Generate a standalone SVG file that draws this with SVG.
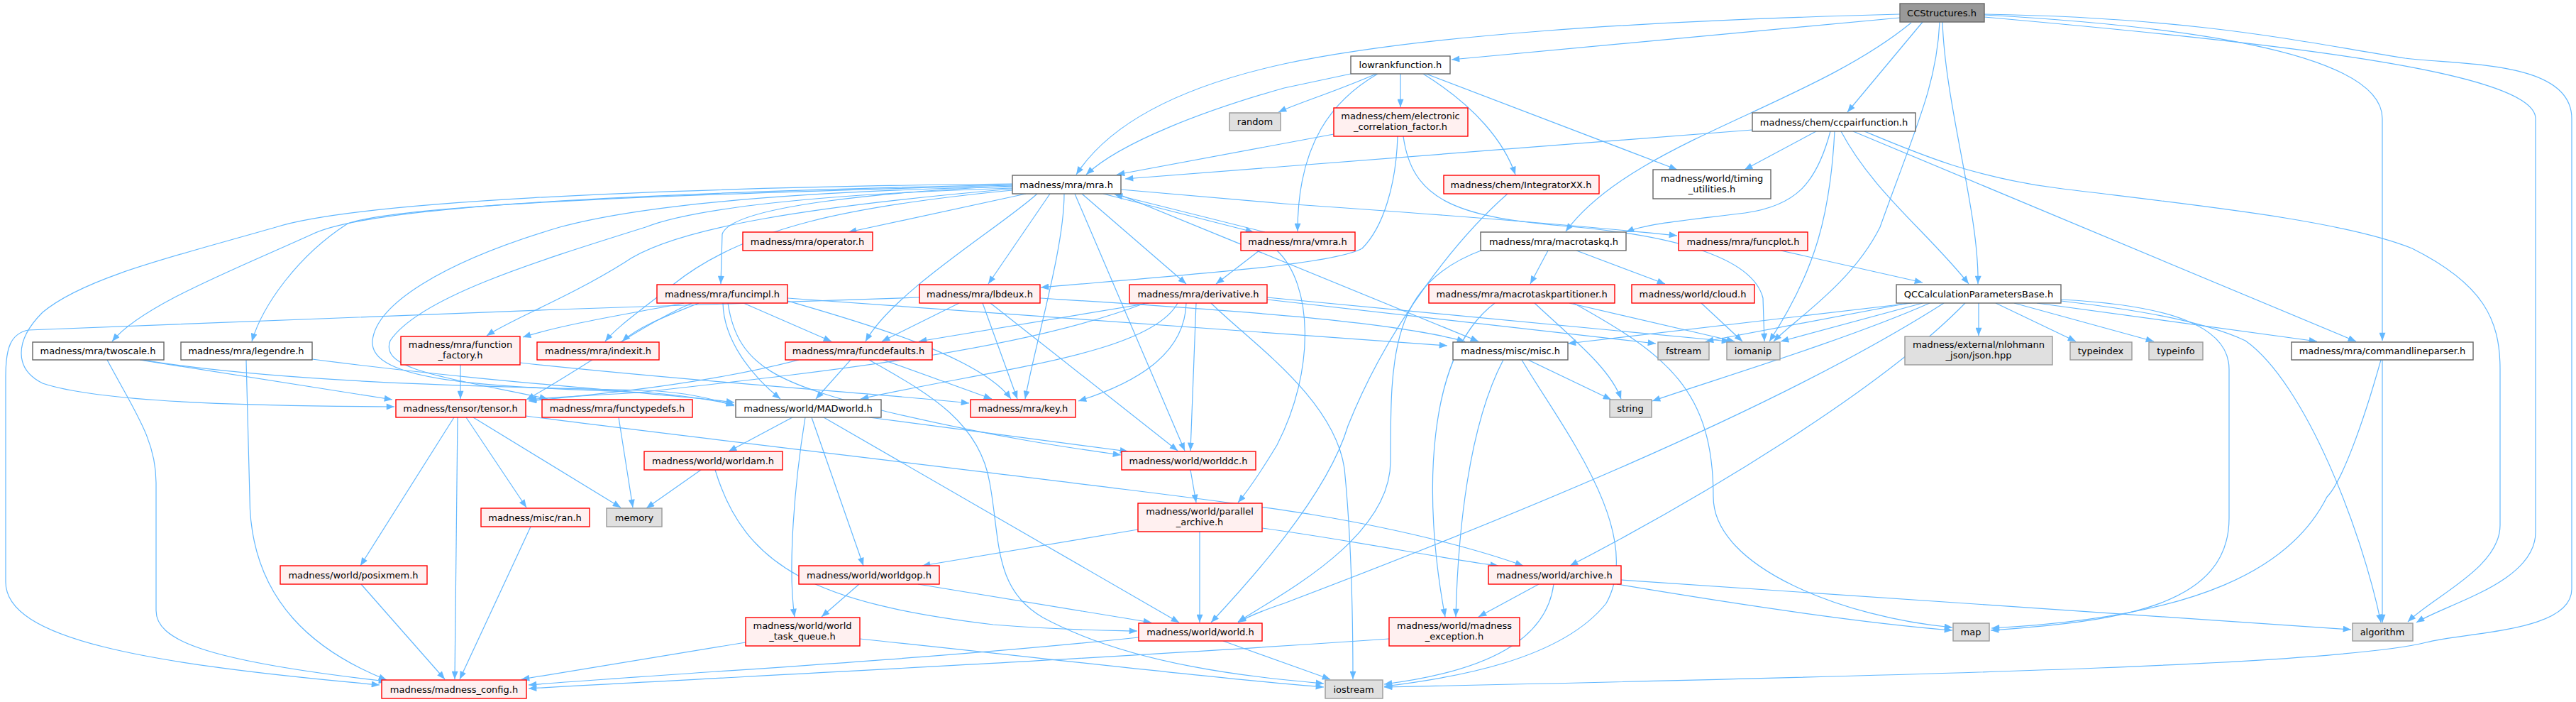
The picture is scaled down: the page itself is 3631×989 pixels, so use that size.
<svg xmlns="http://www.w3.org/2000/svg" width="3631" height="989" viewBox="0 0 3631 989">
<style>
.e{fill:none;stroke:#63b8ff;stroke-width:1.2;marker-end:url(#a)}
rect{stroke-width:1.4}
.w rect{fill:#fff;stroke:#666}
.r rect{fill:#fff0f0;stroke:#ff0000}
.s rect{fill:#e0e0e0;stroke:#999}
.root rect{fill:#999;stroke:#666}
text{font-family:"DejaVu Sans","Liberation Sans",sans-serif;font-size:13px;fill:#000;text-anchor:middle}
</style>
<defs>
<marker id="a" viewBox="0 0 10 8" refX="10" refY="4" markerWidth="13" markerHeight="9" markerUnits="userSpaceOnUse" orient="auto"><path d="M0,0 L10,4 L0,8 z" fill="#63b8ff"/></marker>
</defs>
<rect width="3631" height="989" fill="#fff"/>
<g id="edges">
<path class="e" d="M2678,25 L2046,84"/>
<path class="e" d="M2678,20 C2300,30 2000,50 1810,90 C1650,125 1560,180 1517,246"/>
<path class="e" d="M1904,104 L1810,124 C1700,155 1580,200 1531,246"/>
<path class="e" d="M2710,31 L2604,158"/>
<path class="e" d="M2694,32 C2550,150 2300,200 2207,326"/>
<path class="e" d="M2738,31 C2742,150 2790,300 2788,400"/>
<path class="e" d="M2734,31 C2730,120 2700,180 2650,320 C2610,400 2530,450 2500,481"/>
<path class="e" d="M2797,21 C3050,35 3358,70 3358,167 L3358,480"/>
<path class="e" d="M2797,24 C3200,60 3574,100 3574,167 L3574,750 C3574,820 3450,850 3406,877"/>
<path class="e" d="M2797,20 C3100,25 3250,60 3390,82 C3470,92 3625,85 3625,167 L3625,830 C3625,890 3480,890 3420,905 C3300,935 2800,950 1951,968"/>
<path class="e" d="M1940,104 C1880,130 1830,145 1802,158"/>
<path class="e" d="M1974,104 L1974,151"/>
<path class="e" d="M1942,104 C1880,140 1829,200 1829,326"/>
<path class="e" d="M2006,104 C2080,150 2120,200 2136,246"/>
<path class="e" d="M2010,104 L2364,239"/>
<path class="e" d="M1880,189 L1574,246"/>
<path class="e" d="M1970,192 C1968,260 1950,320 1920,350 C1880,372 1700,385 1467,405"/>
<path class="e" d="M1978,192 C1990,280 2050,305 2200,318 C2350,330 2470,360 2485,420 L2487,481"/>
<path class="e" d="M2470,183 L1586,252"/>
<path class="e" d="M2560,185 L2459,239"/>
<path class="e" d="M2580,185 C2560,260 2530,290 2460,300 C2380,310 2320,315 2292,327"/>
<path class="e" d="M2586,185 C2580,300 2560,380 2494,481"/>
<path class="e" d="M2595,185 C2640,270 2720,330 2775,400"/>
<path class="e" d="M2612,185 L3321,481"/>
<path class="e" d="M2628,185 C2700,215 2780,250 2900,265 C3100,290 3300,310 3400,350 C3500,400 3524,450 3524,520 L3524,740 C3524,800 3430,840 3394,876"/>
<path class="e" d="M1446,273 L1196,327"/>
<path class="e" d="M1555,273 L1767,327"/>
<path class="e" d="M1783,327 L1571,274"/>
<path class="e" d="M1580,267 L1810,287 C2000,300 2200,315 2364,332"/>
<path class="e" d="M1427,262 C1250,270 1030,290 1018,330 L1016,400"/>
<path class="e" d="M1480,273 L1393,400"/>
<path class="e" d="M1525,273 L1672,400"/>
<path class="e" d="M1462,273 C1410,320 1260,410 1220,481"/>
<path class="e" d="M1500,273 C1500,350 1460,480 1445,562"/>
<path class="e" d="M1515,273 L1670,635"/>
<path class="e" d="M1427,266 C1150,290 950,320 880,370 C800,420 720,450 686,473"/>
<path class="e" d="M1427,268 C1200,290 1050,320 950,400 C900,440 870,460 853,481"/>
<path class="e" d="M1427,260 C900,272 520,290 440,330 C330,380 200,430 158,481"/>
<path class="e" d="M1427,261 C900,275 560,290 490,315 C420,360 370,430 355,481"/>
<path class="e" d="M1427,259 C900,265 500,285 389,320 C250,360 120,390 60,440 C20,480 20,520 60,540 C150,570 400,572 556,573"/>
<path class="e" d="M1427,263 C1100,270 900,290 789,320 C620,370 530,430 525,480 C520,540 700,545 910,553 C960,556 1000,563 1035,570"/>
<path class="e" d="M1427,265 C1100,275 960,300 910,320 C750,370 590,420 550,480 C535,520 620,530 772,562"/>
<path class="e" d="M1575,273 L2084,481"/>
<path class="e" d="M1775,353 L1714,400"/>
<path class="e" d="M1800,353 C1850,400 1855,520 1800,627 C1780,660 1760,690 1745,708"/>
<path class="e" d="M964,427 C900,440 800,455 737,475"/>
<path class="e" d="M975,427 C900,460 820,520 742,563"/>
<path class="e" d="M985,427 C940,445 900,460 877,481"/>
<path class="e" d="M1019,427 C1020,480 1060,530 1100,562"/>
<path class="e" d="M1048,427 L1172,481"/>
<path class="e" d="M1026,427 C1040,520 1100,540 1250,580 C1400,615 1500,630 1580,641"/>
<path class="e" d="M1110,424 C1200,450 1380,500 1425,562"/>
<path class="e" d="M1110,420 L2040,487"/>
<path class="e" d="M1352,427 L1243,481"/>
<path class="e" d="M1385,427 L1434,562"/>
<path class="e" d="M1396,427 L1660,635"/>
<path class="e" d="M1296,419 C900,430 300,455 40,465 C15,470 8,490 8,530 L8,820 C8,900 200,935 535,965"/>
<path class="e" d="M1466,420 C1700,435 1950,450 2065,481"/>
<path class="e" d="M1620,427 L1295,481"/>
<path class="e" d="M1614,427 C1450,490 1200,520 900,553 C820,558 770,560 745,563"/>
<path class="e" d="M1660,427 C1620,500 1400,520 1213,562"/>
<path class="e" d="M1672,427 C1670,500 1600,540 1520,565"/>
<path class="e" d="M1686,427 L1678,635"/>
<path class="e" d="M1707,427 C1760,480 1880,560 1895,660 C1905,760 1907,860 1907,957"/>
<path class="e" d="M1786,419 L2438,481"/>
<path class="e" d="M1786,422 L2334,484"/>
<path class="e" d="M1126,507 C1000,540 850,555 745,565"/>
<path class="e" d="M1199,507 L1150,562"/>
<path class="e" d="M1245,507 L1398,562"/>
<path class="e" d="M1225,507 C1300,550 1380,590 1395,680 C1410,760 1400,830 1470,870 C1600,940 1780,955 1866,963"/>
<path class="e" d="M197,507 L553,563"/>
<path class="e" d="M200,507 C400,540 700,545 910,550 C960,552 1000,560 1035,572"/>
<path class="e" d="M151,507 C190,580 220,620 220,680 L220,860 C220,900 280,930 545,960"/>
<path class="e" d="M440,506 C700,540 950,555 1035,567"/>
<path class="e" d="M347,507 L352,700 C352,850 450,920 545,958"/>
<path class="e" d="M649,514 L649,562"/>
<path class="e" d="M733,511 C1000,540 1250,555 1366,568"/>
<path class="e" d="M640,588 L508,797"/>
<path class="e" d="M645,588 L641,957"/>
<path class="e" d="M657,588 L742,715"/>
<path class="e" d="M667,588 L875,715"/>
<path class="e" d="M741,586 C1000,620 1700,700 1850,725 C2000,750 2100,780 2147,797"/>
<path class="e" d="M872,588 L892,715"/>
<path class="e" d="M1117,588 L1027,636"/>
<path class="e" d="M1135,588 C1120,680 1110,800 1120,869"/>
<path class="e" d="M1144,588 L1217,797"/>
<path class="e" d="M1161,588 L1662,877"/>
<path class="e" d="M1225,588 L1590,636"/>
<path class="e" d="M988,662 L911,716"/>
<path class="e" d="M1008,662 C1050,800 1150,850 1400,880 C1500,888 1560,888 1603,889"/>
<path class="e" d="M748,742 L648,957"/>
<path class="e" d="M509,823 L627,957"/>
<path class="e" d="M1678,662 L1686,708"/>
<path class="e" d="M1604,746 L1300,797"/>
<path class="e" d="M1691,749 L1691,877"/>
<path class="e" d="M1779,744 C1900,760 2050,790 2112,797"/>
<path class="e" d="M1211,823 L1158,869"/>
<path class="e" d="M1294,823 L1623,877"/>
<path class="e" d="M1051,905 L735,957"/>
<path class="e" d="M1212,900 C1500,930 1700,955 1866,968"/>
<path class="e" d="M1605,898 C1300,930 1000,945 745,965"/>
<path class="e" d="M1724,903 L1875,957"/>
<path class="e" d="M1958,900 C1600,925 1200,945 745,970"/>
<path class="e" d="M2169,823 L2084,869"/>
<path class="e" d="M2190,823 C2180,900 2100,945 1951,964"/>
<path class="e" d="M2279,823 C2500,860 2650,880 2752,888"/>
<path class="e" d="M2285,817 C2700,845 3100,870 3314,887"/>
<path class="e" d="M2119,507 C2070,600 2055,750 2052,869"/>
<path class="e" d="M2145,507 C2200,600 2320,750 2264,850 C2200,930 2050,955 1951,967"/>
<path class="e" d="M2154,507 L2271,563"/>
<path class="e" d="M2107,427 C2010,500 2005,700 2037,869"/>
<path class="e" d="M2163,427 C2220,480 2270,520 2285,562"/>
<path class="e" d="M2218,427 C2350,500 2415,550 2415,700 C2415,800 2600,870 2752,884"/>
<path class="e" d="M2212,427 L2445,481"/>
<path class="e" d="M2398,427 L2456,481"/>
<path class="e" d="M2182,353 L2157,400"/>
<path class="e" d="M2222,353 L2347,400"/>
<path class="e" d="M2090,352 C1960,400 1960,500 1960,650 C1960,760 1800,840 1745,876"/>
<path class="e" d="M2125,273 C2060,330 1960,450 1900,600 C1870,700 1760,820 1707,877"/>
<path class="e" d="M2510,353 L2710,398"/>
<path class="e" d="M2695,427 L2210,484"/>
<path class="e" d="M2690,427 L2404,481"/>
<path class="e" d="M2710,427 L2510,481"/>
<path class="e" d="M2720,427 C2600,480 2400,540 2329,565"/>
<path class="e" d="M2740,427 C2500,580 2100,740 1810,850 C1780,860 1760,868 1745,877"/>
<path class="e" d="M2770,427 C2650,550 2400,700 2213,797"/>
<path class="e" d="M2789,427 L2789,473"/>
<path class="e" d="M2813,427 L2926,481"/>
<path class="e" d="M2839,427 L3036,481"/>
<path class="e" d="M2871,427 L3266,481"/>
<path class="e" d="M2905,424 C3000,435 3100,450 3165,480 C3250,540 3330,750 3356,877"/>
<path class="e" d="M2905,422 C3060,430 3142,460 3142,520 L3142,730 C3142,850 3000,875 2806,888"/>
<path class="e" d="M3358,507 L3358,877"/>
<path class="e" d="M3356,507 C3330,600 3300,680 3280,700 C3230,800 3100,870 2807,885"/>
</g>
<g id="n_ccs" class="root"><rect x="2678" y="5" width="119" height="26"/><text x="2737" y="23">CCStructures.h</text></g>
<g id="n_lowrank" class="w"><rect x="1904" y="79" width="140" height="25"/><text x="1974" y="96">lowrankfunction.h</text></g>
<g id="n_random" class="s"><rect x="1733" y="159" width="72" height="25"/><text x="1769" y="176">random</text></g>
<g id="n_electronic" class="r"><rect x="1880" y="152" width="189" height="40"/><text x="1974" y="168">madness/chem/electronic</text><text x="1974" y="183">_correlation_factor.h</text></g>
<g id="n_ccpair" class="w"><rect x="2470" y="159" width="230" height="26"/><text x="2585" y="177">madness/chem/ccpairfunction.h</text></g>
<g id="n_mra" class="w"><rect x="1427" y="247" width="153" height="26"/><text x="1503" y="265">madness/mra/mra.h</text></g>
<g id="n_integ" class="r"><rect x="2035" y="247" width="219" height="26"/><text x="2144" y="265">madness/chem/IntegratorXX.h</text></g>
<g id="n_timing" class="w"><rect x="2330" y="239" width="166" height="41"/><text x="2413" y="256">madness/world/timing</text><text x="2413" y="271">_utilities.h</text></g>
<g id="n_operator" class="r"><rect x="1047" y="327" width="183" height="26"/><text x="1138" y="345">madness/mra/operator.h</text></g>
<g id="n_vmra" class="r"><rect x="1749" y="327" width="161" height="26"/><text x="1829" y="345">madness/mra/vmra.h</text></g>
<g id="n_macrotaskq" class="w"><rect x="2087" y="327" width="205" height="26"/><text x="2190" y="345">madness/mra/macrotaskq.h</text></g>
<g id="n_funcplot" class="r"><rect x="2366" y="327" width="182" height="26"/><text x="2457" y="345">madness/mra/funcplot.h</text></g>
<g id="n_funcimpl" class="r"><rect x="926" y="401" width="184" height="26"/><text x="1018" y="419">madness/mra/funcimpl.h</text></g>
<g id="n_lbdeux" class="r"><rect x="1296" y="401" width="170" height="26"/><text x="1381" y="419">madness/mra/lbdeux.h</text></g>
<g id="n_derivative" class="r"><rect x="1592" y="401" width="194" height="26"/><text x="1689" y="419">madness/mra/derivative.h</text></g>
<g id="n_mtpart" class="r"><rect x="2014" y="401" width="262" height="26"/><text x="2145" y="419">madness/mra/macrotaskpartitioner.h</text></g>
<g id="n_cloud" class="r"><rect x="2300" y="401" width="173" height="26"/><text x="2386" y="419">madness/world/cloud.h</text></g>
<g id="n_qcc" class="w"><rect x="2673" y="401" width="232" height="26"/><text x="2789" y="419">QCCalculationParametersBase.h</text></g>
<g id="n_twoscale" class="w"><rect x="46" y="482" width="185" height="25"/><text x="138" y="499">madness/mra/twoscale.h</text></g>
<g id="n_legendre" class="w"><rect x="255" y="482" width="185" height="25"/><text x="347" y="499">madness/mra/legendre.h</text></g>
<g id="n_ffactory" class="r"><rect x="565" y="474" width="168" height="40"/><text x="649" y="490">madness/mra/function</text><text x="649" y="505">_factory.h</text></g>
<g id="n_indexit" class="r"><rect x="757" y="482" width="172" height="25"/><text x="843" y="499">madness/mra/indexit.h</text></g>
<g id="n_funcdefaults" class="r"><rect x="1107" y="482" width="207" height="25"/><text x="1210" y="499">madness/mra/funcdefaults.h</text></g>
<g id="n_misc" class="w"><rect x="2048" y="482" width="162" height="25"/><text x="2129" y="499">madness/misc/misc.h</text></g>
<g id="n_fstream" class="s"><rect x="2337" y="482" width="72" height="25"/><text x="2373" y="499">fstream</text></g>
<g id="n_iomanip" class="s"><rect x="2434" y="482" width="75" height="25"/><text x="2471" y="499">iomanip</text></g>
<g id="n_json" class="s"><rect x="2685" y="474" width="208" height="40"/><text x="2789" y="490">madness/external/nlohmann</text><text x="2789" y="505">_json/json.hpp</text></g>
<g id="n_typeindex" class="s"><rect x="2918" y="482" width="87" height="25"/><text x="2961" y="499">typeindex</text></g>
<g id="n_typeinfo" class="s"><rect x="3029" y="482" width="76" height="25"/><text x="3067" y="499">typeinfo</text></g>
<g id="n_cmdline" class="w"><rect x="3230" y="482" width="256" height="25"/><text x="3358" y="499">madness/mra/commandlineparser.h</text></g>
<g id="n_tensor" class="r"><rect x="558" y="563" width="183" height="25"/><text x="649" y="580">madness/tensor/tensor.h</text></g>
<g id="n_functypedefs" class="r"><rect x="764" y="563" width="212" height="25"/><text x="870" y="580">madness/mra/functypedefs.h</text></g>
<g id="n_madworld" class="w"><rect x="1037" y="563" width="205" height="25"/><text x="1139" y="580">madness/world/MADworld.h</text></g>
<g id="n_key" class="r"><rect x="1368" y="563" width="148" height="25"/><text x="1442" y="580">madness/mra/key.h</text></g>
<g id="n_string" class="s"><rect x="2269" y="563" width="59" height="25"/><text x="2298" y="580">string</text></g>
<g id="n_worldam" class="r"><rect x="908" y="636" width="195" height="26"/><text x="1005" y="654">madness/world/worldam.h</text></g>
<g id="n_worlddc" class="r"><rect x="1581" y="636" width="189" height="26"/><text x="1675" y="654">madness/world/worlddc.h</text></g>
<g id="n_ran" class="r"><rect x="678" y="716" width="153" height="26"/><text x="754" y="734">madness/misc/ran.h</text></g>
<g id="n_memory" class="s"><rect x="855" y="716" width="78" height="26"/><text x="894" y="734">memory</text></g>
<g id="n_parch" class="r"><rect x="1604" y="709" width="175" height="40"/><text x="1691" y="725">madness/world/parallel</text><text x="1691" y="740">_archive.h</text></g>
<g id="n_posixmem" class="r"><rect x="395" y="797" width="207" height="26"/><text x="498" y="815">madness/world/posixmem.h</text></g>
<g id="n_worldgop" class="r"><rect x="1126" y="797" width="198" height="26"/><text x="1225" y="815">madness/world/worldgop.h</text></g>
<g id="n_archive" class="r"><rect x="2098" y="797" width="187" height="26"/><text x="2191" y="815">madness/world/archive.h</text></g>
<g id="n_wtq" class="r"><rect x="1051" y="870" width="161" height="40"/><text x="1131" y="886">madness/world/world</text><text x="1131" y="901">_task_queue.h</text></g>
<g id="n_world" class="r"><rect x="1605" y="878" width="174" height="25"/><text x="1692" y="895">madness/world/world.h</text></g>
<g id="n_mexc" class="r"><rect x="1958" y="870" width="184" height="40"/><text x="2050" y="886">madness/world/madness</text><text x="2050" y="901">_exception.h</text></g>
<g id="n_map" class="s"><rect x="2753" y="878" width="51" height="25"/><text x="2778" y="895">map</text></g>
<g id="n_algorithm" class="s"><rect x="3316" y="878" width="85" height="25"/><text x="3358" y="895">algorithm</text></g>
<g id="n_config" class="r"><rect x="538" y="958" width="204" height="26"/><text x="640" y="976">madness/madness_config.h</text></g>
<g id="n_iostream" class="s"><rect x="1868" y="958" width="81" height="26"/><text x="1908" y="976">iostream</text></g>
</svg>
